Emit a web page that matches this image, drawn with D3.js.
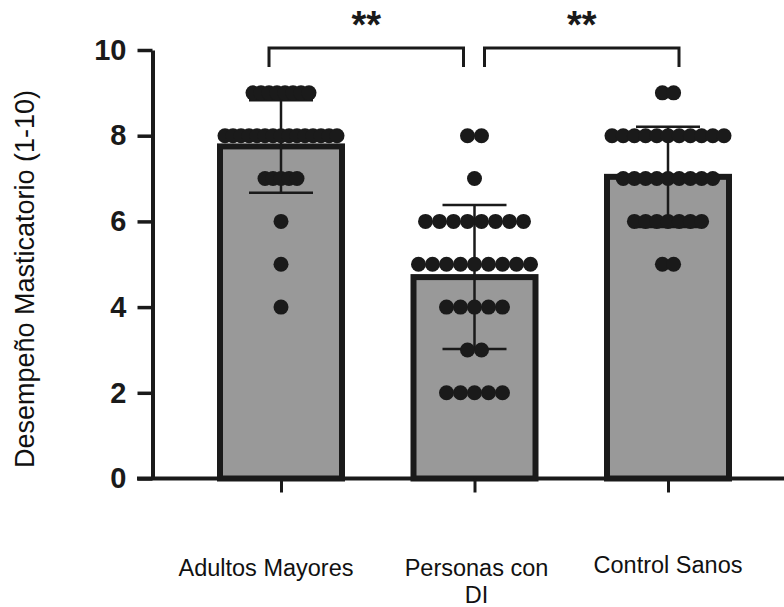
<!DOCTYPE html>
<html>
<head>
<meta charset="utf-8">
<script src="https://cdn.jsdelivr.net/npm/d3@7"></script>
<style>
  html, body { margin: 0; padding: 0; background: #ffffff; }
  svg { display: block; }
  text { font-family: Arial, "Liberation Sans", Helvetica, sans-serif; }
</style>
</head>
<body>
<svg id="chart" width="784" height="607"></svg>
<script>
// ---- data ----
const categories = ["Adultos Mayores", "Personas con DI", "Control Sanos"];
const categoryLines = [["Adultos Mayores"], ["Personas con", "DI"], ["Control Sanos"]];
const means = [7.75, 4.7, 7.04];
const sds = [1.08, 1.68, 1.17];
// individual scores: [value, count]
const pointsAdultos = [[9, 8], [8, 15], [7, 5], [6, 1], [5, 1], [4, 1]];
const pointsDI = [[8, 2], [7, 1], [6, 8], [5, 9], [4, 5], [3, 2], [2, 5]];
const pointsControl = [[9, 2], [8, 11], [7, 9], [6, 7], [5, 2]];
const pointGroups = [pointsAdultos, pointsDI, pointsControl];
const yTicks = [0, 2, 4, 6, 8, 10];
const comparisons = [[0, 1, "**"], [1, 2, "**"]];
const yTitle = "Desempeño Masticatorio (1-10)";

// ---- layout ----
const svg = d3.select("#chart");
const ink = "#1a1a1a";
const y = d3.scaleLinear().domain([0, 10]).range([478.5, 50]);
const x = d3.scalePoint().domain(categories).range([281, 668]);
const barW = 122;

// bars
svg.append("g").selectAll("rect").data(categories).join("rect")
  .attr("x", d => x(d) - barW / 2)
  .attr("y", (d, i) => y(means[i]))
  .attr("width", barW)
  .attr("height", (d, i) => y(0) - y(means[i]))
  .attr("fill", "#999999")
  .attr("stroke", ink)
  .attr("stroke-width", 6);

// error bars
const eb = svg.append("g").attr("stroke", ink).attr("stroke-width", 2.5).attr("fill", "none");
categories.forEach((c, i) => {
  const cx = x(c), hi = y(means[i] + sds[i]), lo = y(means[i] - sds[i]);
  eb.append("line").attr("x1", cx).attr("x2", cx).attr("y1", hi).attr("y2", lo);
  eb.append("line").attr("x1", cx - 32).attr("x2", cx + 32).attr("y1", hi).attr("y2", hi);
  eb.append("line").attr("x1", cx - 32).attr("x2", cx + 32).attr("y1", lo).attr("y2", lo);
});

// dots
const dotsG = svg.append("g").attr("fill", ink);
categories.forEach((c, gi) => {
  const rows = pointGroups[gi];
  const maxCount = d3.max(rows, r => r[1]);
  const s = Math.min(14, 112 / Math.max(1, maxCount - 1));
  const pts = [];
  rows.forEach(([v, k]) => {
    for (let j = 0; j < k; j++) pts.push({ x: x(c) + (j - (k - 1) / 2) * s, v });
  });
  dotsG.selectAll(null).data(pts).join("circle")
    .attr("cx", d => d.x).attr("cy", d => y(d.v)).attr("r", 7.5);
});

// y axis
const yAxis = svg.append("g")
  .attr("transform", "translate(152.5,0)")
  .call(d3.axisLeft(y).tickValues(yTicks).tickSize(15).tickSizeOuter(0).tickPadding(11).tickFormat(d3.format("d")));
yAxis.select(".domain").attr("stroke", ink).attr("stroke-width", 4);
yAxis.selectAll(".tick line").attr("stroke", ink).attr("stroke-width", 3.5);
yAxis.selectAll(".tick text")
  .attr("fill", ink).attr("font-size", 29).attr("font-weight", "bold")
  .attr("font-family", "Arial, 'Liberation Sans', sans-serif");

// x axis
svg.append("line").attr("x1", 137).attr("x2", 784).attr("y1", y(0)).attr("y2", y(0))
  .attr("stroke", ink).attr("stroke-width", 4);
const xAxis = svg.append("g")
  .attr("transform", `translate(0,${y(0)})`)
  .call(d3.axisBottom(x).tickSize(14).tickSizeOuter(0).tickFormat(""));
xAxis.select(".domain").remove();
xAxis.selectAll(".tick line").attr("stroke", ink).attr("stroke-width", 3);

// category labels
const labelDx = [-15, 2, 0], labelDy = [0, 0, -3];
categories.forEach((c, i) => {
  const t = svg.append("text")
    .attr("text-anchor", "middle")
    .attr("font-size", 23.5)
    .attr("fill", "#111")
    .attr("x", x(c) + labelDx[i])
    .attr("y", 576 + labelDy[i]);
  categoryLines[i].forEach((ln, j) => {
    t.append("tspan").attr("x", x(c) + labelDx[i]).attr("dy", j === 0 ? 0 : 27).text(ln);
  });
});

// y title
svg.append("text")
  .attr("transform", "translate(34,279) rotate(-90)")
  .attr("text-anchor", "middle")
  .attr("font-size", 27)
  .attr("fill", "#111")
  .text(yTitle);

// significance brackets
const brOff = [[-12, -11], [10, 11]];
comparisons.forEach(([a, b, lab], i) => {
  const x1 = x(categories[a]) + brOff[i][0], x2 = x(categories[b]) + brOff[i][1];
  svg.append("path")
    .attr("d", `M${x1},67V48H${x2}V67`)
    .attr("fill", "none").attr("stroke", ink).attr("stroke-width", 3);
  svg.append("text")
    .attr("x", (x1 + x2) / 2).attr("y", 38)
    .attr("text-anchor", "middle")
    .attr("font-size", 38).attr("font-weight", "bold").attr("fill", ink)
    .text(lab);
});
</script>
</body>
</html>
